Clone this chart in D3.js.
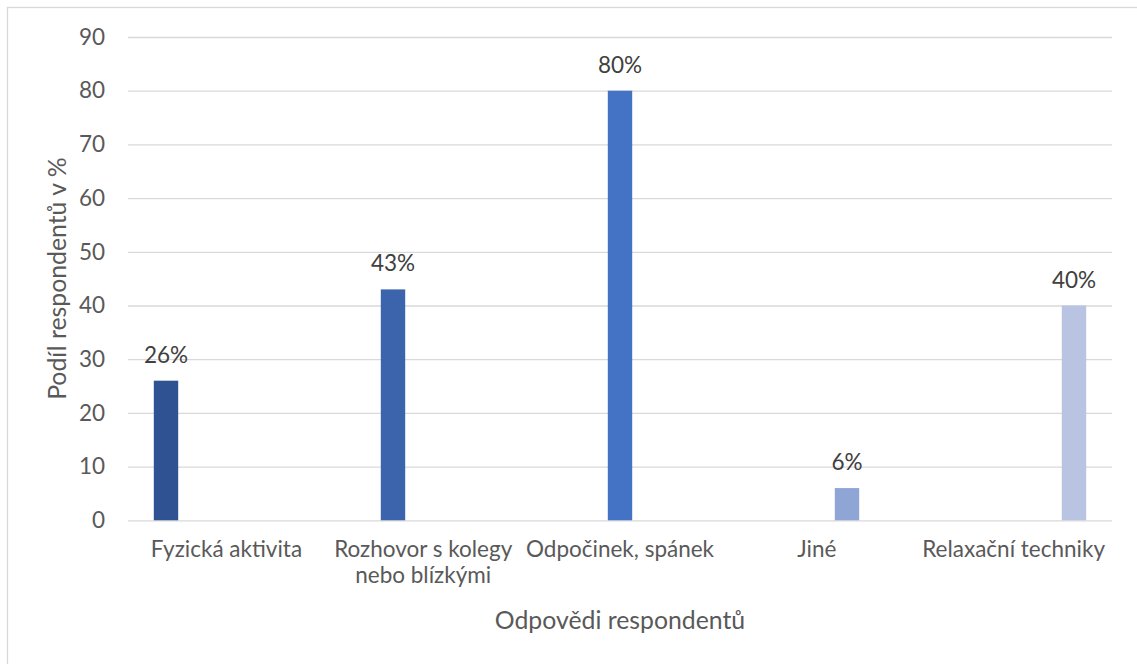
<!DOCTYPE html>
<html>
<head>
<meta charset="utf-8">
<script src="https://cdn.jsdelivr.net/npm/d3@7"></script>
<style>
  html, body { margin: 0; padding: 0; background: #fff; }
  svg { display: block; }
  text { font-family: Lato, "Open Sans", "DejaVu Sans", sans-serif; }
</style>
</head>
<body>
<script>
// ---- data ----
const categories = ["Fyzická aktivita", "Rozhovor s kolegy nebo blízkými", "Odpočinek, spánek", "Jiné", "Relaxační techniky"];
const values = [26, 43, 80, 6, 40];
const dataLabels = ["26%", "43%", "80%", "6%", "40%"];
const yTicks = [0, 10, 20, 30, 40, 50, 60, 70, 80, 90];
const colors = ["#2F5392", "#3B64AD", "#4472C4", "#8FA5D6", "#B9C3E2"];
const yTitle = "Podíl respondentů v %";
const xTitle = "Odpovědi respondentů";

// ---- layout ----
const W = 1137, H = 664;
const plot = { left: 128, right: 1112, top: 37, bottom: 520.3 };
const FS = 22.5;
const TFS = 24.8;

const svg = d3.select("body").append("svg").attr("width", W).attr("height", H);

// chart border (only left/top visible in crop)
svg.append("rect").attr("x", 7.5).attr("y", 7.5).attr("width", W + 20).attr("height", H + 20)
  .attr("fill", "none").attr("stroke", "#D9D9D9").attr("stroke-width", 1.3);

const y = d3.scaleLinear().domain([0, 90]).range([plot.bottom, plot.top]);
const x0 = d3.scaleBand().domain(categories).range([plot.left, plot.right]);
const groupW = 151;
const x1 = d3.scaleBand().domain(d3.range(categories.length)).range([-groupW / 2, groupW / 2])
  .paddingInner(0.192).paddingOuter(0.096);

// gridlines
const grid = svg.append("g").attr("transform", `translate(${plot.left},0)`)
  .call(d3.axisLeft(y).tickValues(yTicks).tickSize(-(plot.right - plot.left)).tickFormat(""));
grid.select(".domain").remove();
grid.selectAll("line").attr("stroke", "#D9D9D9").attr("stroke-width", 1.3);

// y axis labels
const yAxis = svg.append("g").attr("transform", `translate(${plot.left},0)`)
  .call(d3.axisLeft(y).tickValues(yTicks).tickSize(0).tickPadding(23));
yAxis.select(".domain").remove();
yAxis.selectAll("text").attr("font-size", FS).attr("fill", "#595959")
  .style("font-family", "Lato, 'Open Sans', sans-serif");

// bars
svg.append("g").selectAll("rect").data(values).join("rect")
  .attr("x", (d, i) => x0(categories[i]) + x0.bandwidth() / 2 + x1(i))
  .attr("width", x1.bandwidth())
  .attr("y", d => y(d))
  .attr("height", d => y(0) - y(d))
  .attr("fill", (d, i) => colors[i]);

// data labels
svg.append("g").selectAll("text").data(values).join("text")
  .attr("x", (d, i) => x0(categories[i]) + x0.bandwidth() / 2 + x1(i) + x1.bandwidth() / 2)
  .attr("y", d => y(d) - 18)
  .attr("text-anchor", "middle")
  .attr("font-size", FS)
  .attr("fill", "#404040")
  .text((d, i) => dataLabels[i]);

// x axis labels
const xAxis = svg.append("g").attr("transform", `translate(0,${plot.bottom})`)
  .call(d3.axisBottom(x0).tickSize(0).tickPadding(0));
xAxis.select(".domain").remove();
xAxis.selectAll("text").attr("font-size", FS).attr("fill", "#595959")
  .style("font-family", "Lato, 'Open Sans', sans-serif")
  .attr("dy", null).attr("y", 37)
  .each(function () { wrap(d3.select(this), x0.bandwidth() - 6); });

function wrap(text, width) {
  const words = text.text().split(/\s+/);
  const yy = text.attr("y");
  text.text(null);
  let line = [];
  let lineNo = 0;
  let tspan = text.append("tspan").attr("x", 0).attr("y", yy);
  for (const w of words) {
    line.push(w);
    tspan.text(line.join(" "));
    if (tspan.node().getComputedTextLength() > width && line.length > 1) {
      line.pop();
      tspan.text(line.join(" "));
      line = [w];
      lineNo++;
      tspan = text.append("tspan").attr("x", 0).attr("y", +yy + lineNo * 26).text(w);
    }
  }
}

// axis titles
svg.append("text")
  .attr("transform", `translate(66,${(plot.top + plot.bottom) / 2}) rotate(-90)`)
  .attr("text-anchor", "middle").attr("font-size", TFS).attr("fill", "#595959")
  .text(yTitle);

svg.append("text")
  .attr("x", (plot.left + plot.right) / 2).attr("y", 629)
  .attr("text-anchor", "middle").attr("font-size", TFS).attr("fill", "#595959")
  .text(xTitle);
</script>
</body>
</html>
